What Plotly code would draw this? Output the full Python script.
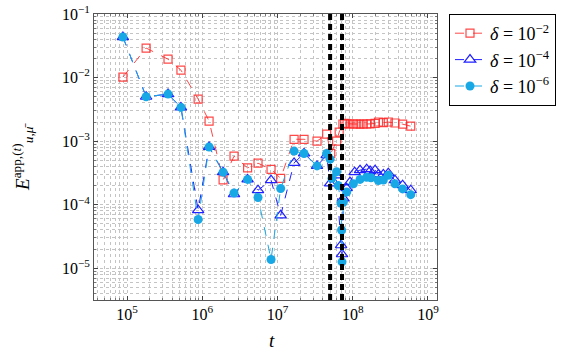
import plotly.graph_objects as go

# --- data ---
t_red = [8.8e4, 1.79e5, 3.5e5, 5.2e5, 8.8e5, 1.23e6, 1.89e6, 2.64e6, 4.0e6, 5.5e6,
         8.2e6, 1.1e7, 1.66e7, 2.25e7, 3.35e7, 4.5e7, 5.1e7, 6.1e7, 6.6e7, 7.4e7,
         7.8e7, 8.4e7, 9.2e7, 1.02e8, 1.13e8, 1.25e8, 1.38e8, 1.53e8, 1.7e8, 1.98e8,
         2.2e8, 2.55e8, 2.97e8, 3.64e8, 4.6e8, 5.9e8]
e_red = [1.02e-2, 2.92e-2, 1.95e-2, 1.31e-2, 4.6e-3, 2.07e-3, 2.45e-4, 5.8e-4, 3.8e-4, 4.5e-4,
         3.6e-4, 2.6e-4, 1.07e-3, 1.07e-3, 1.0e-3, 1.29e-3, 6.4e-4, 1.0e-3, 1.39e-3, 1.86e-3,
         1.9e-3, 1.88e-3, 1.86e-3, 1.86e-3, 1.86e-3, 1.85e-3, 1.86e-3, 1.86e-3, 1.87e-3, 1.9e-3,
         2.0e-3, 1.95e-3, 2.0e-3, 1.93e-3, 1.85e-3, 1.72e-3]

t_blue = [8.8e4, 1.79e5, 3.5e5, 5.2e5, 8.8e5, 1.23e6, 1.89e6, 2.64e6, 4.0e6, 5.5e6,
          8.2e6, 1.1e7, 1.66e7, 2.25e7, 3.35e7, 4.5e7, 5.0e7, 6.0e7, 7.0e7, 7.2e7,
          7.5e7, 8.3e7, 9.2e7, 1.06e8, 1.25e8, 1.53e8, 1.7e8, 1.98e8, 2.2e8, 2.55e8,
          2.97e8, 3.64e8, 4.6e8, 5.9e8]
e_blue = [4.35e-2, 5.0e-3, 5.5e-3, 3.4e-3, 8.2e-5, 8.1e-4, 3.25e-4, 1.46e-4, 2.5e-4, 1.69e-4,
          2.43e-4, 6.8e-5, 4.55e-4, 6.4e-4, 4.08e-4, 6.0e-4, 2.16e-4, 2.9e-4, 2.3e-5, 1.66e-5,
          1.26e-4, 1.82e-4, 2.26e-4, 3.25e-4, 3.5e-4, 3.63e-4, 3.4e-4, 3.5e-4, 3.0e-4, 3.0e-4,
          3.13e-4, 2.43e-4, 2.03e-4, 1.69e-4]

t_cyan = [8.8e4, 1.79e5, 3.5e5, 5.2e5, 8.8e5, 1.23e6, 1.89e6, 2.64e6, 4.0e6, 5.5e6,
          8.2e6, 1.1e7, 1.66e7, 2.25e7, 3.35e7, 4.5e7, 5.0e7, 5.3e7, 6.1e7, 6.4e7,
          7.0e7, 7.1e7, 7.2e7, 7.5e7, 8.3e7, 1.02e8, 1.25e8, 1.53e8, 1.75e8, 2.19e8,
          2.55e8, 2.97e8, 3.64e8, 4.6e8, 5.9e8]
e_cyan = [4.35e-2, 5.0e-3, 5.5e-3, 3.4e-3, 5.85e-5, 8.1e-4, 3.25e-4, 1.53e-4, 2.5e-4, 1.3e-4,
          1.37e-5, 1.8e-4, 6.97e-4, 6.4e-4, 4.08e-4, 6.4e-4, 5.2e-4, 2.6e-4, 3.3e-4, 2.0e-4,
          1.05e-4, 4.0e-5, 1.26e-5, 1.1e-4, 1.58e-4, 2.13e-4, 2.5e-4, 2.7e-4, 2.65e-4, 2.4e-4,
          2.45e-4, 2.9e-4, 2.13e-4, 1.77e-4, 1.44e-4]

t_vlines = [5.0e7, 7.2e7]

x_ticks = [1e5, 1e6, 1e7, 1e8, 1e9]
x_labels = ["10<sup>5</sup>", "10<sup>6</sup>", "10<sup>7</sup>", "10<sup>8</sup>", "10<sup>9</sup>"]
y_ticks = [1e-5, 1e-4, 1e-3, 1e-2, 1e-1]
y_labels = ["10<sup>−5</sup>", "10<sup>−4</sup>", "10<sup>−3</sup>", "10<sup>−2</sup>", "10<sup>−1</sup>"]

# minor grid at 2..9 of every decade
x_minor = [m * 10.0 ** k for k in range(4, 10) for m in range(2, 10)]
y_minor = [m * 10.0 ** k for k in range(-6, 0) for m in range(2, 10)]

FONT = "Liberation Serif, DejaVu Serif, serif"

fig = go.Figure()

fig.add_trace(go.Scatter(
    x=t_red, y=e_red, mode="lines+markers", name="<i>δ</i> = 10<sup>−2</sup>",
    line=dict(color="rgba(255,40,40,0.85)", width=1, dash="dash"),
    marker=dict(symbol="square-open", size=8, color="rgba(255,40,40,0.85)", line=dict(width=1.2)),
))
fig.add_trace(go.Scatter(
    x=t_blue, y=e_blue, mode="lines+markers", name="<i>δ</i> = 10<sup>−4</sup>",
    line=dict(color="#2020ff", width=1, dash="dash"),
    marker=dict(symbol="triangle-up-open", size=10, color="#2020ff", line=dict(width=1.2)),
))
fig.add_trace(go.Scatter(
    x=t_cyan, y=e_cyan, mode="lines+markers", name="<i>δ</i> = 10<sup>−6</sup>",
    line=dict(color="#18a8e6", width=1, dash="dash"),
    marker=dict(symbol="circle", size=9, color="#18a8e6"),
))

# dashed vertical markers
for tv in t_vlines:
    fig.add_shape(type="line", x0=tv, x1=tv, y0=0, y1=1, xref="x", yref="paper",
                  line=dict(color="black", width=4, dash="6px,4px"))

grid = dict(showgrid=True, gridcolor="#c4c4c4", griddash="dot", gridwidth=1)

fig.update_xaxes(
    type="log", range=[4.56, 9.12], automargin=False,
    tickvals=x_ticks, ticktext=x_labels,
    ticks="inside", ticklen=4, tickcolor="#444", mirror="allticks",
    showline=True, linecolor="#555", linewidth=1,
    minor=dict(tickvals=x_minor, ticks="inside", ticklen=2, tickcolor="#777", **grid),
    zeroline=False,
    tickfont=dict(size=16, family=FONT, color="black"),
    **grid,
)
fig.update_yaxes(
    type="log", range=[-5.5, -0.999], automargin=False,
    tickvals=y_ticks, ticktext=y_labels, ticklabeloverflow="allow",
    ticks="inside", ticklen=4, tickcolor="#444", mirror="allticks",
    showline=True, linecolor="#555", linewidth=1,
    minor=dict(tickvals=y_minor, ticks="inside", ticklen=2, tickcolor="#777", **grid),
    zeroline=False,
    tickfont=dict(size=16, family=FONT, color="black"),
    **grid,
)

# axis titles
fig.add_annotation(text="<i>t</i>", xref="paper", yref="paper", x=0.519, y=-0.14,
                   xanchor="center", yanchor="middle",
                   showarrow=False, font=dict(size=19, family=FONT, color="black"))
fig.add_annotation(text="<i>E</i><sup>app,(<i>t</i>)</sup><sub><i>u</i>,<i>μ̄</i></sub>",
                   xref="paper", yref="paper", x=-0.21, y=0.5, textangle=-90,
                   xanchor="center", yanchor="middle",
                   showarrow=False, font=dict(size=19, family=FONT, color="black"))

fig.update_layout(
    width=567, height=354,
    margin=dict(l=94, r=130, t=14, b=54, autoexpand=False),
    plot_bgcolor="white", paper_bgcolor="white",
    legend=dict(
        x=1.035, y=1, xanchor="left", yanchor="top",
        bordercolor="black", borderwidth=1, bgcolor="white",
        font=dict(size=18, family=FONT, color="black"),
        itemwidth=30, tracegroupgap=0,
    ),
)

# page has a default 8px body margin; remove it so the figure fills the window
fig.write_html("out.html", config={"displayModeBar": False},
               post_script="document.body.style.margin = '0px';")
